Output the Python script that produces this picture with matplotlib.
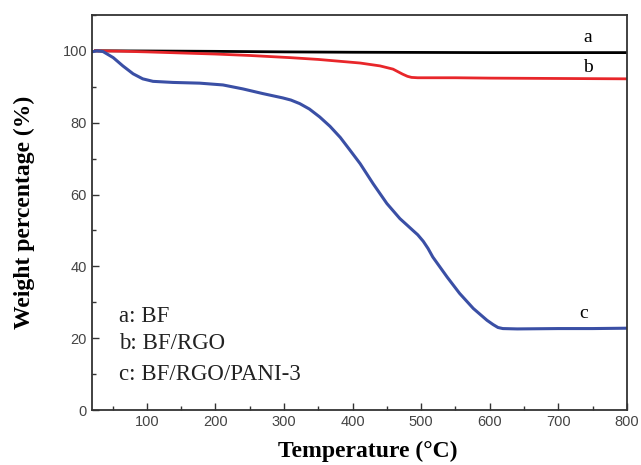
import matplotlib.pyplot as plt
from matplotlib.ticker import MultipleLocator

# =========================
# DATA
# =========================

temp_a = [25, 100, 200, 300, 400, 500, 600, 700, 800]
weight_a = [100.0, 99.95, 99.85, 99.7, 99.6, 99.55, 99.5, 99.5, 99.5]

temp_b = [25, 60, 100, 150, 200, 250, 309, 350, 411, 440, 459, 466, 473, 480, 486, 495, 550, 600, 700, 800]
weight_b = [100.0, 99.9, 99.7, 99.4, 99.1, 98.7, 98.1, 97.6, 96.6, 95.8, 94.9, 94.2, 93.5, 92.9, 92.6, 92.5, 92.5, 92.4, 92.3, 92.2]

temp_c = [22, 27, 36, 51, 65, 80, 94, 109, 138, 177, 211, 240, 269, 298, 310, 323, 337, 352, 367, 382, 396, 411, 430,
          450, 469, 480, 488, 495, 503, 510, 517, 538, 556, 576, 596, 605, 612, 619, 640, 700, 750, 800]
weight_c = [99.8, 100.0, 99.8, 98.1, 95.8, 93.6, 92.2, 91.5, 91.2, 91.0, 90.5, 89.4, 88.1, 86.9, 86.3, 85.3, 83.8, 81.6, 79.0, 75.9, 72.4, 68.6, 63.0,
            57.5, 53.3, 51.4, 50.0, 48.8, 47.0, 45.0, 42.6, 37.0, 32.5, 28.3, 25.0, 23.8, 23.0, 22.7, 22.6, 22.7, 22.7, 22.8]

series_names = ["a: BF", "b: BF/RGO", "c: BF/RGO/PANI-3"]

x_ticks = [100, 200, 300, 400, 500, 600, 700, 800]
y_ticks = [0, 20, 40, 60, 80, 100]

# =========================
# PLOT
# =========================

fig = plt.figure(figsize=(6.41, 4.65), dpi=100)
ax = fig.add_axes([0.1435, 0.118, 0.8345, 0.85])

ax.plot(temp_a, weight_a, color="black", lw=2.0, solid_joinstyle="round")
ax.plot(temp_b, weight_b, color="#e8262a", lw=2.0, solid_joinstyle="round")
ax.plot(temp_c, weight_c, color="#3a4fa5", lw=2.2, solid_joinstyle="round")

serif = "Liberation Serif"
ax.text(743, 103.6, "a", fontfamily=serif, fontsize=14, ha="center", va="center")
ax.text(743, 95.3, "b", fontfamily=serif, fontsize=14, ha="center", va="center")
ax.text(737, 26.9, "c", fontfamily=serif, fontsize=14, ha="center", va="center")

for name, y in zip(series_names, [26.1, 18.6, 10.0]):
    ax.text(60, y, name, fontfamily=serif, fontsize=16.5, ha="left", va="center", color="#222222")

ax.set_xlim(20, 800)
ax.set_ylim(0, 110)
ax.set_xticks(x_ticks)
ax.set_yticks(y_ticks)
ax.xaxis.set_minor_locator(MultipleLocator(50))
ax.yaxis.set_minor_locator(MultipleLocator(10))
ax.tick_params(which="both", direction="in", width=1.0, colors="#333333",
               labelsize=10.5, labelcolor="#444444")
ax.tick_params(which="major", length=5)
ax.tick_params(which="minor", length=3)
for lab in ax.get_xticklabels() + ax.get_yticklabels():
    lab.set_fontfamily("Liberation Sans")

for s in ax.spines.values():
    s.set_linewidth(1.3)
    s.set_color("#333333")

ax.set_xlabel("Temperature (°C)", fontfamily=serif, fontweight="bold", fontsize=17)
ax.set_ylabel("Weight percentage (%)", fontfamily=serif, fontweight="bold", fontsize=17, labelpad=20)
ax.xaxis.set_label_coords(0.515, -0.078)

fig.savefig("out.png", dpi=100)
plt.close(fig)
